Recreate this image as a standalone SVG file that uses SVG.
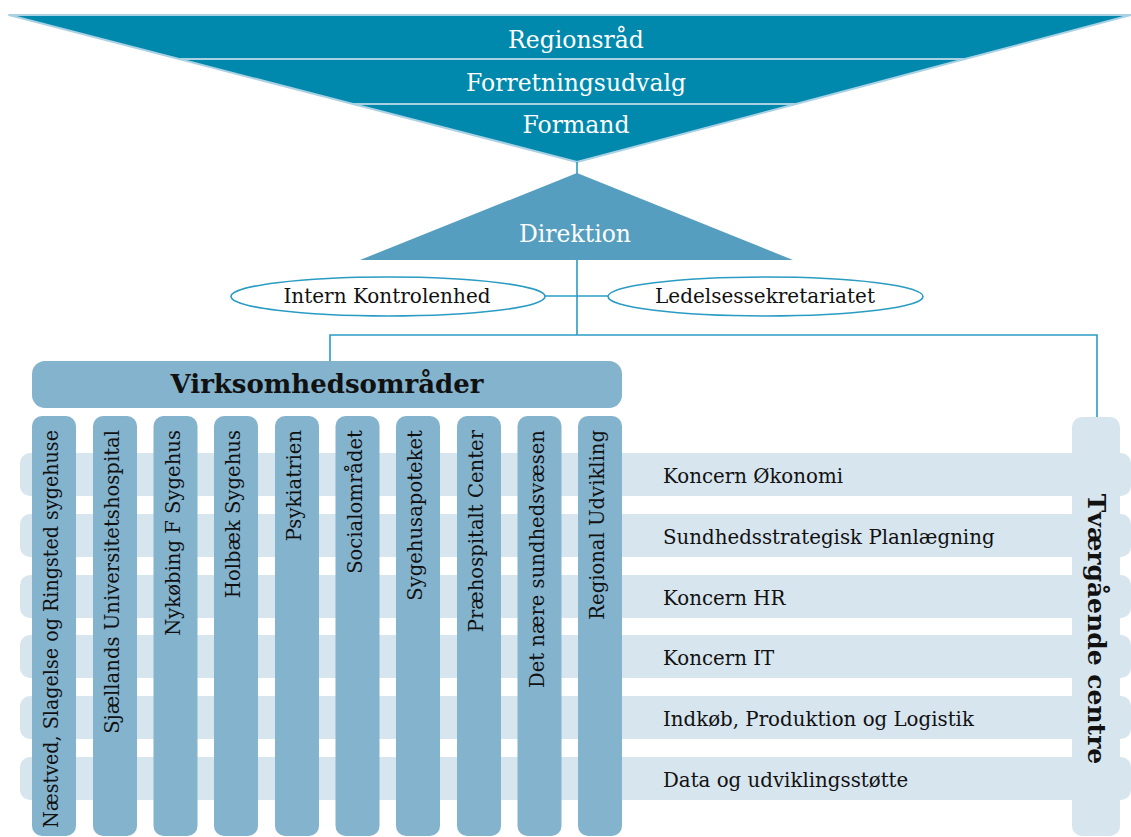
<svg xmlns="http://www.w3.org/2000/svg" width="1131" height="837" viewBox="0 0 1131 837">
<style>
  text { font-family: "DejaVu Serif", "Liberation Serif", serif; }
  .top { fill: #0088ad; stroke: #a9d1e3; stroke-width: 2; stroke-linejoin: round; }
  .dir { fill: #559ebf; }
  .wt { fill: #ffffff; font-size: 23.5px; text-anchor: middle; }
  .conn { stroke: #2a9cc3; stroke-width: 1.6; fill: none; }
  .ell { fill: #ffffff; stroke: #2a9cc3; stroke-width: 1.6; }
  .et { fill: #111111; font-size: 20px; text-anchor: middle; }
  .mid { fill: #84b3ce; }
  .light { fill: #d7e5ef; }
  .bt { fill: #111111; font-size: 19.8px; }
  .ct { fill: #111111; font-size: 19.6px; text-anchor: end; }
  .bold { fill: #111111; font-weight: bold; font-size: 25px; text-anchor: middle; }
  .vb { font-size: 26px; }
</style>

<g id="regionsraad">
  <polygon class="top" points="9,15 1131,15 965,59 179,59"/>
  <text class="wt" x="576" y="48">Regionsråd</text>
</g>
<g id="forretningsudvalg">
  <polygon class="top" points="179,59 965,59 796,104 353,104"/>
  <text class="wt" x="576" y="91">Forretningsudvalg</text>
</g>
<g id="formand">
  <polygon class="top" points="353,104 796,104 577,162"/>
  <text class="wt" x="576" y="133">Formand</text>
</g>

<g id="connectors">
  <line class="conn" x1="577" y1="162" x2="577" y2="174"/>
  <line class="conn" x1="577" y1="259" x2="577" y2="335"/>
  <line class="conn" x1="545" y1="296" x2="608" y2="296"/>
  <polyline class="conn" points="330,362 330,335 1097,335 1097,417"/>
</g>

<g id="direktion">
  <polygon class="dir" points="577,173 793,260 360,260"/>
  <text class="wt" x="575" y="242">Direktion</text>
</g>

<g id="intern-kontrolenhed">
  <ellipse class="ell" cx="388" cy="296.5" rx="157" ry="19.5"/>
  <text class="et" x="387" y="303">Intern Kontrolenhed</text>
</g>
<g id="ledelsessekretariatet">
  <ellipse class="ell" cx="765.5" cy="296.5" rx="157.5" ry="19.5"/>
  <text class="et" x="765" y="303">Ledelsessekretariatet</text>
</g>

<g id="bars">
  <rect class="light" x="20" y="453" width="1111" height="43" rx="10"/>
  <rect class="light" x="20" y="514" width="1111" height="43" rx="10"/>
  <rect class="light" x="20" y="575" width="1111" height="43" rx="10"/>
  <rect class="light" x="20" y="635" width="1111" height="43" rx="10"/>
  <rect class="light" x="20" y="696" width="1111" height="43" rx="10"/>
  <rect class="light" x="20" y="757" width="1111" height="43" rx="10"/>
</g>

<g id="tvaergaaende-centre">
  <rect class="light" x="1072" y="417" width="48" height="419" rx="10"/>
  <text class="bold" transform="translate(1088,629) rotate(90)" x="0" y="0">Tværgående centre</text>
</g>

<g id="koncern-oekonomi"><text class="bt" x="663" y="483">Koncern Økonomi</text></g>
<g id="sundhedsstrategisk-planlaegning"><text class="bt" x="663" y="544">Sundhedsstrategisk Planlægning</text></g>
<g id="koncern-hr"><text class="bt" x="663" y="605">Koncern HR</text></g>
<g id="koncern-it"><text class="bt" x="663" y="665">Koncern IT</text></g>
<g id="indkoeb"><text class="bt" x="663" y="726">Indkøb, Produktion og Logistik</text></g>
<g id="data-udviklingsstoette"><text class="bt" x="663" y="787">Data og udviklingsstøtte</text></g>

<g id="virksomhedsomraader">
  <rect class="mid" x="32" y="361" width="590" height="47" rx="13"/>
  <text class="bold vb" x="327" y="393">Virksomhedsområder</text>
</g>

<g id="col-naestved">
  <rect class="mid" x="32" y="416" width="44" height="420" rx="10"/>
  <text class="ct" transform="translate(58,430) rotate(-90)" textLength="398" lengthAdjust="spacingAndGlyphs">Næstved, Slagelse og Ringsted sygehuse</text>
</g>
<g id="col-sjaellands">
  <rect class="mid" x="93" y="416" width="44" height="420" rx="10"/>
  <text class="ct" transform="translate(119,430) rotate(-90)">Sjællands Universitetshospital</text>
</g>
<g id="col-nykoebing">
  <rect class="mid" x="153.5" y="416" width="44" height="420" rx="10"/>
  <text class="ct" transform="translate(179.5,430) rotate(-90)">Nykøbing F Sygehus</text>
</g>
<g id="col-holbaek">
  <rect class="mid" x="214" y="416" width="44" height="420" rx="10"/>
  <text class="ct" transform="translate(240,430) rotate(-90)">Holbæk Sygehus</text>
</g>
<g id="col-psykiatrien">
  <rect class="mid" x="275" y="416" width="44" height="420" rx="10"/>
  <text class="ct" transform="translate(301,430) rotate(-90)">Psykiatrien</text>
</g>
<g id="col-socialomraadet">
  <rect class="mid" x="335.5" y="416" width="44" height="420" rx="10"/>
  <text class="ct" transform="translate(361.5,430) rotate(-90)">Socialområdet</text>
</g>
<g id="col-sygehusapoteket">
  <rect class="mid" x="396" y="416" width="44" height="420" rx="10"/>
  <text class="ct" transform="translate(422,430) rotate(-90)">Sygehusapoteket</text>
</g>
<g id="col-praehospitalt">
  <rect class="mid" x="457" y="416" width="44" height="420" rx="10"/>
  <text class="ct" transform="translate(483,430) rotate(-90)">Præhospitalt Center</text>
</g>
<g id="col-det-naere">
  <rect class="mid" x="517.5" y="416" width="44" height="420" rx="10"/>
  <text class="ct" transform="translate(543.5,430) rotate(-90)">Det nære sundhedsvæsen</text>
</g>
<g id="col-regional-udvikling">
  <rect class="mid" x="578" y="416" width="44" height="420" rx="10"/>
  <text class="ct" transform="translate(604,430) rotate(-90)">Regional Udvikling</text>
</g>
</svg>
